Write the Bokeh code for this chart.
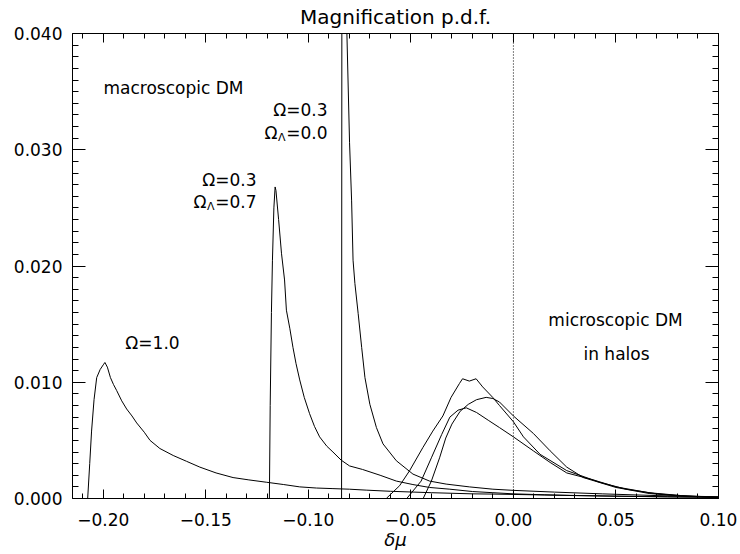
from bokeh.plotting import figure
from bokeh.models import LinearAxis, FixedTicker, Range1d, Span, CustomJSTickFormatter
from bokeh.core.properties import value
from bokeh.embed import file_html
from bokeh.resources import INLINE

# ---------------- data ----------------
TITLE = "Magnification p.d.f."
X_LABEL = "δμ"
x_tick_values = [-0.20, -0.15, -0.10, -0.05, 0.00, 0.05, 0.10]
x_tick_labels = ["−0.20", "−0.15", "−0.10", "−0.05", "0.00", "0.05", "0.10"]
y_tick_values = [0.000, 0.010, 0.020, 0.030, 0.040]
y_tick_labels = ["0.000", "0.010", "0.020", "0.030", "0.040"]
x_limits = [-0.215, 0.10]
y_limits = [0.0, 0.040]
reference_line_x = 0.0

# macroscopic DM, Omega = 1.0
omega10_x = [-0.2100, -0.2076, -0.2066, -0.2057, -0.2045, -0.2032, -0.2015, -0.2000, -0.1992,
             -0.1980, -0.1965, -0.1950, -0.1935, -0.1910, -0.1886, -0.1860, -0.1837, -0.1800,
             -0.1772, -0.1724, -0.1659, -0.1594, -0.1529, -0.1450, -0.1367,
             -0.1290, -0.1205, -0.1120, -0.1042, -0.0960, -0.0880, -0.0800, -0.0718, -0.0600,
             -0.0500, -0.0400, -0.0300, -0.0200, -0.0100, 0.0000, 0.0150, 0.0300, 0.0500,
             0.0750, 0.1000]
omega10_y = [0.0, 0.0, 0.0030, 0.0058, 0.0085, 0.0104, 0.0111, 0.0115, 0.0117,
             0.0113, 0.0104, 0.0098, 0.0093, 0.0084, 0.0077, 0.0071, 0.0065, 0.0057,
             0.0050, 0.0043, 0.0037, 0.0032, 0.0027, 0.0022, 0.0018,
             0.0016, 0.0014, 0.0012, 0.0010, 0.0009, 0.00085, 0.0008, 0.00072, 0.00062,
             0.00056, 0.0005, 0.00045, 0.0004, 0.00038, 0.00035, 0.0003, 0.00025, 0.0002,
             0.00015, 0.0001]

# macroscopic DM, Omega = 0.3, Omega_Lambda = 0.7
omega03_l07_x = [-0.1200, -0.1190, -0.1186, -0.1180, -0.1175, -0.1168, -0.1162, -0.1158,
                 -0.1145, -0.1131, -0.1116, -0.1107, -0.1090, -0.1075, -0.1060, -0.1042,
                 -0.1020, -0.0994, -0.0970, -0.0945, -0.0910, -0.0880, -0.0840, -0.0799,
                 -0.0736, -0.0650, -0.0571, -0.0490, -0.0409, -0.0310, -0.0200, -0.0100,
                 0.0000, 0.0150, 0.0300, 0.0500, 0.0750, 0.1000]
omega03_l07_y = [0.0, 0.0, 0.0080, 0.0160, 0.0205, 0.0250, 0.0268, 0.0265,
                 0.0240, 0.0211, 0.0188, 0.0162, 0.0146, 0.0130, 0.0116, 0.0102,
                 0.0087, 0.0073, 0.0062, 0.0053, 0.0045, 0.0040, 0.0033, 0.0028,
                 0.0025, 0.0020, 0.0015, 0.0012, 0.00095, 0.0008, 0.0006, 0.0005,
                 0.0004, 0.00032, 0.00026, 0.0002, 0.00014, 0.0001]

# macroscopic DM, Omega = 0.3, Omega_Lambda = 0.0 (peak runs off the top)
omega03_l00_x = [-0.0850, -0.0838, -0.0836, -0.0812, -0.0799, -0.0789, -0.0782, -0.0773,
                 -0.0757, -0.0740, -0.0724, -0.0700, -0.0668, -0.0636, -0.0571, -0.0490,
                 -0.0409, -0.0328, -0.0215, -0.0100, 0.0000, 0.0200, 0.0433, 0.0700, 0.1000]
omega03_l00_y = [0.0, 0.0, 0.0560, 0.0400, 0.0306, 0.0256, 0.0205, 0.0185,
                 0.0159, 0.0130, 0.0104, 0.0081, 0.0061, 0.0047, 0.00325, 0.0021,
                 0.0015, 0.00124, 0.0010, 0.0008, 0.0007, 0.00055, 0.0004, 0.00025, 0.00015]

# microscopic DM in halos (three cosmologies)
micro_a_x = [-0.0620, -0.0555, -0.0506, -0.0441, -0.0393, -0.0344, -0.0304, -0.0263, -0.0248,
             -0.0215, -0.0182, -0.0150, -0.0101, -0.0068, 0.0000, 0.0049, 0.0130, 0.0260,
             0.0419, 0.0550, 0.0700, 0.0850, 0.1000]
micro_a_y = [0.0, 0.0011, 0.0024, 0.0044, 0.0058, 0.0071, 0.0087, 0.0099, 0.0103,
             0.0101, 0.0103, 0.0096, 0.0087, 0.0080, 0.0066, 0.0053, 0.0038, 0.0024,
             0.0014, 0.0008, 0.0004, 0.0002, 0.0001]

micro_b_x = [-0.0440, -0.0400, -0.0360, -0.0330, -0.0300, -0.0260, -0.0220, -0.0180, -0.0133,
             -0.0100, -0.0068, 0.0000, 0.0097, 0.0179, 0.0260, 0.0341, 0.0500, 0.0662,
             0.0825, 0.1000]
micro_b_y = [0.0, 0.0015, 0.0035, 0.0052, 0.0064, 0.0075, 0.0081, 0.0085, 0.0087,
             0.0086, 0.0083, 0.0071, 0.0056, 0.0041, 0.0027, 0.0018, 0.00095, 0.00043,
             0.0002, 0.0001]

micro_c_x = [-0.0520, -0.0450, -0.0400, -0.0350, -0.0310, -0.0270, -0.0230, -0.0180, -0.0120,
             -0.0068, 0.0000, 0.0097, 0.0179, 0.0260, 0.0390, 0.0500, 0.0660, 0.0820, 0.1000]
micro_c_y = [0.0, 0.0015, 0.0035, 0.0055, 0.0070, 0.0076, 0.0078, 0.0074, 0.0067,
             0.0061, 0.0053, 0.0041, 0.0031, 0.0022, 0.0016, 0.0010, 0.0005, 0.00025, 0.0001]

curves = [
    (omega10_x, omega10_y),
    (omega03_l07_x, omega03_l07_y),
    (omega03_l00_x, omega03_l00_y),
    (micro_a_x, micro_a_y),
    (micro_b_x, micro_b_y),
    (micro_c_x, micro_c_y),
]

# ---------------- layout ----------------
FONT = "DejaVu Sans"
FIG_W, FIG_H = 740, 554
B_LEFT, B_RIGHT, B_TOP, B_BOTTOM = 72, 22, 33, 56
FRAME_W = FIG_W - B_LEFT - B_RIGHT
FRAME_H = FIG_H - B_TOP - B_BOTTOM
IMG_L, IMG_T = B_LEFT, B_TOP          # frame corner in picture pixels
IMG_B = IMG_T + FRAME_H


def px_x(px):
    return x_limits[0] + (px - IMG_L) * (x_limits[1] - x_limits[0]) / FRAME_W


def px_y(py):
    return y_limits[0] + (IMG_B - py) * (y_limits[1] - y_limits[0]) / FRAME_H


def label_formatter(tick_values, tick_labels):
    return CustomJSTickFormatter(args=dict(tvals=tick_values, tlabels=tick_labels), code="""
        let best = 0;
        for (let i = 0; i < tvals.length; i++) {
            if (Math.abs(tvals[i] - tick) < Math.abs(tvals[best] - tick)) best = i;
        }
        return tlabels[best];
    """)


p = figure(width=FIG_W, height=FIG_H,
           x_range=Range1d(*x_limits), y_range=Range1d(*y_limits),
           output_backend="svg", toolbar_location=None,
           min_border_left=B_LEFT, min_border_right=B_RIGHT,
           min_border_top=B_TOP, min_border_bottom=B_BOTTOM,
           title=TITLE)
p.xgrid.visible = False
p.ygrid.visible = False
p.outline_line_color = None
p.background_fill_color = "white"
p.border_fill_color = "white"

p.title.align = "center"
p.title.vertical_align = "top"
p.title.text_font = FONT
p.title.text_font_size = "20px"
p.title.text_font_style = "normal"
p.title.text_color = "black"
p.title.standoff = 6

x_minor = [round(-0.21 + 0.01 * i, 2) for i in range(32)]
y_minor = [round(0.001 * i, 3) for i in range(41)]
xticker = FixedTicker(ticks=x_tick_values, minor_ticks=x_minor)
yticker = FixedTicker(ticks=y_tick_values, minor_ticks=y_minor)


def style_axis(ax, ticker, major_len, minor_len, show_labels, tick_values, tick_labels):
    ax.ticker = ticker
    ax.axis_line_color = "black"
    ax.axis_line_width = 1
    ax.major_tick_line_color = "black"
    ax.minor_tick_line_color = "black"
    ax.major_tick_in = major_len
    ax.major_tick_out = 0
    ax.minor_tick_in = minor_len
    ax.minor_tick_out = 0
    ax.axis_label_standoff = 0
    if show_labels:
        ax.formatter = label_formatter(tick_values, tick_labels)
        ax.major_label_text_font = FONT
        ax.major_label_text_font_size = "17px"
        ax.major_label_text_color = "black"
    else:
        ax.formatter = label_formatter(tick_values, [""] * len(tick_values))
        ax.major_label_text_font_size = "0px"
        ax.major_label_standoff = 0


xa = p.xaxis[0]
ya = p.yaxis[0]
style_axis(xa, xticker, 9, 5, True, x_tick_values, x_tick_labels)
xa.major_label_standoff = 14
xa.axis_label = X_LABEL
xa.axis_label_text_font = FONT
xa.axis_label_text_font_style = "italic"
xa.axis_label_text_font_size = "18px"
xa.axis_label_text_color = "black"
xa.axis_label_standoff = 0
style_axis(ya, yticker, 13, 6, True, y_tick_values, y_tick_labels)
ya.major_label_standoff = 10

top_axis = LinearAxis()
style_axis(top_axis, xticker, 9, 5, False, x_tick_values, x_tick_labels)
p.add_layout(top_axis, "above")
right_axis = LinearAxis()
style_axis(right_axis, yticker, 13, 6, False, y_tick_values, y_tick_labels)
p.add_layout(right_axis, "right")

# curves
for cx, cy in curves:
    p.line(cx, cy, line_color="black", line_width=1)

p.add_layout(Span(location=reference_line_x, dimension="height",
                  line_color="black", line_width=1, line_dash="1 2"))

# annotations
TXT = dict(text_font=value(FONT), text_font_size="17px", text_color="black",
           text_baseline="middle")
p.text(x=[px_x(103)], y=[px_y(87)], text=["macroscopic DM"], text_align="left", **TXT)
p.text(x=[px_x(152)], y=[px_y(342)], text=["Ω=1.0"], text_align="center", **TXT)
p.text(x=[px_x(615)], y=[px_y(319)], text=["microscopic DM"], text_align="center", **TXT)
p.text(x=[px_x(616)], y=[px_y(353)], text=["in halos"], text_align="center", **TXT)


def omega_pair(right_px, y1_px, y2_px, lam_value):
    p.text(x=[px_x(right_px)], y=[px_y(y1_px)], text=["Ω=0.3"], text_align="right", **TXT)
    p.text(x=[px_x(right_px)], y=[px_y(y2_px)], text=["=" + lam_value], text_align="right", **TXT)
    p.text(x=[px_x(right_px)], y=[px_y(y2_px + 5)], text=["Λ"], text_align="right",
           x_offset=-42, text_font=value(FONT), text_font_size="11px",
           text_color="black", text_baseline="middle")
    p.text(x=[px_x(right_px)], y=[px_y(y2_px)], text=["Ω"], text_align="right",
           x_offset=-50, **TXT)


omega_pair(327, 109, 132, "0.0")
omega_pair(256, 179, 201, "0.7")

open("out.html", "w").write(file_html(p, INLINE))
